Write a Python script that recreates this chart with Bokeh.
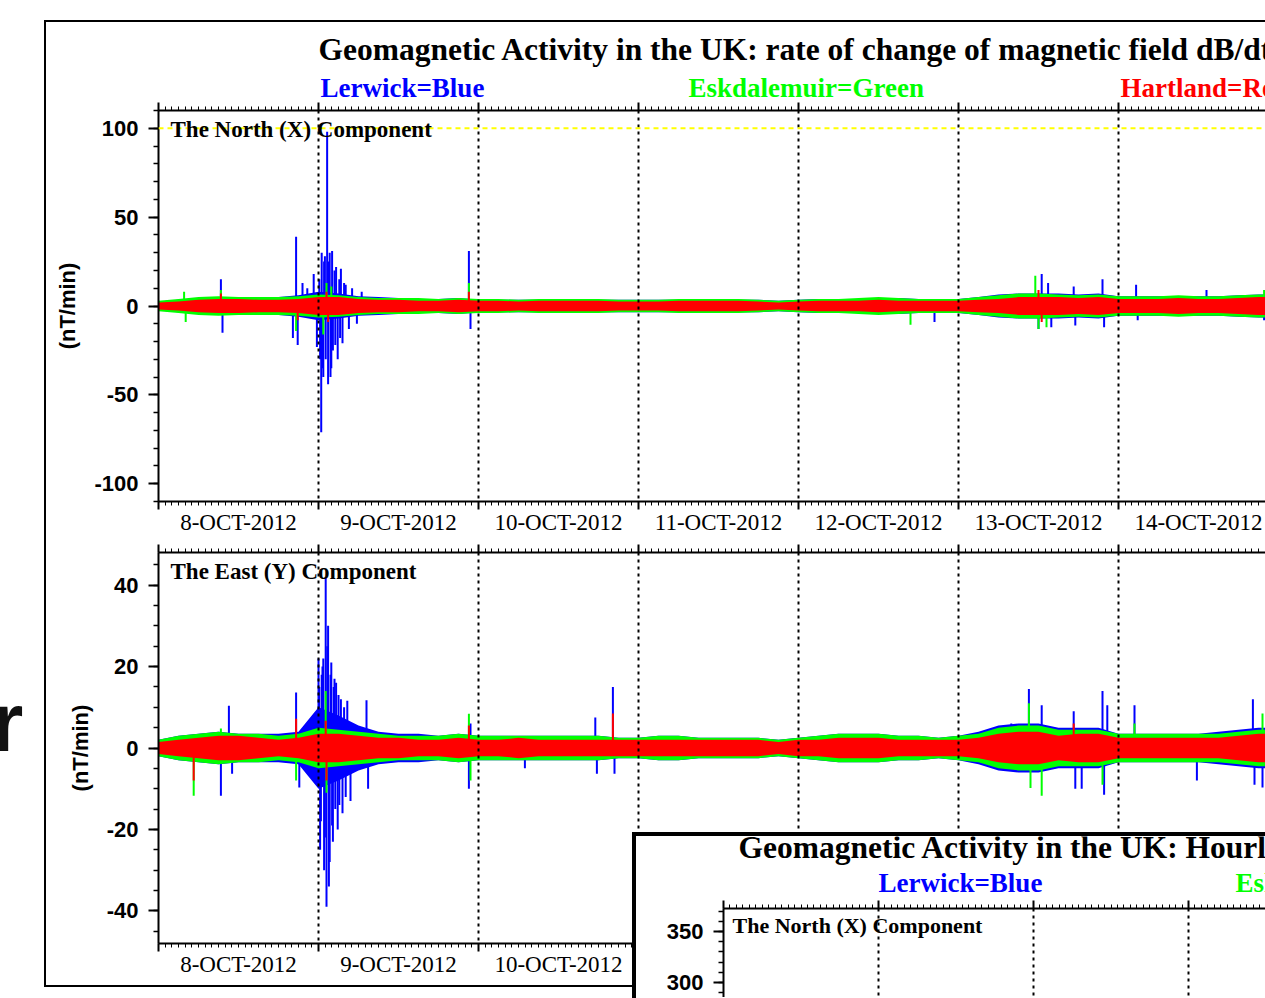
from bokeh.plotting import figure
from bokeh.models import Range1d, FixedTicker, LinearAxis, Span, Div, CustomJSTickFormatter
from bokeh.embed import file_html
from bokeh.resources import INLINE
from bokeh.core.properties import value

SERIF = "Liberation Serif"
SANS = "Liberation Sans"

# ---------------------------------------------------------------- data
DAY_LABELS = ["8-OCT-2012", "9-OCT-2012", "10-OCT-2012", "11-OCT-2012",
              "12-OCT-2012", "13-OCT-2012", "14-OCT-2012"]
INSET_DAYS = 4

# 3-hourly sample times (days after 8-OCT-2012 00:00)
T3 = [i / 8 for i in range(57)]

# half-width of the dense 1-min noise band (nT/min), North (X) component
X_RED = [2, 2.5, 3.5, 4, 4, 3.5, 3.5, 4,
         5, 5, 4, 3.5, 3.5, 3, 3, 3.5,
         3, 3, 2.5, 3, 3, 3, 3, 2.5,
         2.5, 2.5, 3, 3, 3, 3, 2.5, 2,
         2.5, 3, 3, 3, 3.5, 3, 3, 3,
         3, 3.5, 4, 5, 5, 5, 4.5, 5,
         4, 4, 4, 4.5, 4, 4, 4.5, 5, 5]
X_GREEN = [3, 4, 5, 5.5, 5, 5, 5, 5.5,
           6.5, 6, 5, 4.5, 4.5, 4.5, 4, 4.5,
           4, 4, 3.5, 4, 4, 4, 4, 3.5,
           3.5, 3.5, 4, 4, 4, 4, 3.5, 3,
           3.5, 4, 4, 4.5, 5, 4.5, 4, 4,
           4, 5, 6, 7, 7, 6.5, 6, 6.5,
           5.5, 5.5, 5.5, 6, 5.5, 5.5, 6, 6.5, 6.5]
X_BLUE = [2.5, 3.5, 4.5, 5, 4.5, 4.5, 5, 6,
          8, 7, 5.5, 5, 4.5, 4, 4, 4.5,
          3.5, 3.5, 3.5, 3.5, 4, 4, 3.5, 3.5,
          3.5, 3.5, 3.5, 3.5, 4, 3.5, 3.5, 3,
          3.5, 4, 4, 4, 4.5, 4.5, 4, 4,
          4, 5, 6.5, 7, 7, 7, 6.5, 7,
          5.5, 5.5, 5.5, 5.5, 5.5, 5.5, 6, 6.5, 6.5]

# half-width of the dense noise band, East (Y) component
Y_RED = [1.5, 2, 2.5, 3, 3, 2.5, 2, 2.5,
         3.5, 3.5, 3, 2.5, 2.5, 2, 2, 2.5,
         2, 2, 2.5, 2, 2, 2, 2, 2,
         2, 2, 2, 2, 2, 2, 2, 1.5,
         2, 2, 2.5, 2.5, 2.5, 2, 2, 2,
         2, 2.5, 3.5, 4, 4, 3, 3.5, 3.5,
         2.5, 2.5, 2.5, 2.5, 2.5, 2.5, 3, 3.5, 3.5]
Y_GREEN = [2, 3, 3.5, 4, 3.5, 3.5, 3, 3.5,
           5, 4.5, 4, 3.5, 3, 3, 3, 3.5,
           3, 3, 3, 3, 3, 3, 3, 2.5,
           2.5, 3, 3, 2.5, 2.5, 2.5, 2.5, 2,
           2.5, 3, 3.5, 3.5, 3.5, 3, 3, 2.5,
           3, 3.5, 5, 5.5, 5.5, 4.5, 4.5, 4.5,
           3.5, 3.5, 3.5, 3.5, 3.5, 3.5, 4, 4.5, 4.5]
Y_BLUE = [2, 3, 3.5, 4, 3.5, 3.5, 3.5, 4,
          10, 8, 5.5, 4, 3.5, 3.5, 3, 3.5,
          3, 3, 3, 3, 3, 3, 3, 2.5,
          2.5, 3, 3, 2.5, 2.5, 2.5, 2.5, 2,
          2.5, 3, 3.5, 3.5, 3.5, 3, 3, 2.5,
          3, 4, 5.5, 6, 6, 5, 5, 5,
          3.5, 3.5, 3.5, 3.5, 3.5, 4, 4.5, 5, 5]

# individual excursions (time in days, value in nT/min)
X_BLUE_SPIKE_T = [0.39, 0.40, 0.84, 0.86, 0.87, 0.90, 0.93, 0.97, 0.99, 1.005, 1.01, 1.017,
                  1.02, 1.025, 1.03, 1.035, 1.04, 1.045, 1.054, 1.06, 1.065, 1.07, 1.075, 1.08,
                  1.085, 1.09, 1.10, 1.105, 1.11, 1.12, 1.13, 1.135, 1.14, 1.15, 1.16, 1.17,
                  1.19, 1.21, 1.24, 1.27, 1.94, 1.95, 4.85, 5.50, 5.52, 5.56, 5.58, 5.72,
                  5.73, 5.90, 5.91, 6.11, 6.12, 6.55, 6.91]
X_BLUE_SPIKE_V = [15, -15, -18, 39, -22, 13, 10, 18, -23, 15, -30, -71,
                  30, -35, -40, 25, 28, -30, 98, -44, 25, 30, -40, -35,
                  31, -25, 20, -22, 22, -30, 15, -18, 21, -21, 13, 12,
                  -13, 10, -10, 8, 31, -13, -9, -13, 18, 13, -12, 11,
                  -11, 15, -12, 12, -8, 9, -8]
X_GREEN_SPIKE_T = [0.16, 0.17, 0.39, 0.86, 1.03, 1.05, 1.08, 1.94, 4.70, 5.48, 5.50, 5.55, 6.91]
X_GREEN_SPIKE_V = [8, -9, 9, -14, -16, 13, 11, 13, -10.5, 17, -13, -12, 9]
X_RED_SPIKE_T = [0.39, 0.87, 1.05, 1.06, 1.94, 5.50, 5.52]
X_RED_SPIKE_V = [7, -8, 8, -9, 8, 9, -9]

Y_BLUE_SPIKE_T = [0.39, 0.44, 0.46, 0.86, 0.88, 1.00, 1.005, 1.01, 1.015, 1.02, 1.025, 1.03,
                  1.035, 1.04, 1.045, 1.05, 1.055, 1.06, 1.065, 1.07, 1.075, 1.08, 1.085, 1.09,
                  1.095, 1.10, 1.105, 1.11, 1.12, 1.125, 1.13, 1.14, 1.15, 1.16, 1.17, 1.18,
                  1.20, 1.30, 1.31, 1.94, 1.95, 2.29, 2.73, 2.74, 2.84, 2.85, 5.33, 5.34,
                  5.44, 5.52, 5.72, 5.73, 5.77, 5.90, 5.91, 5.93, 6.10, 6.49, 6.84, 6.85, 6.90]
Y_BLUE_SPIKE_V = [-11.7, 10.4, -6.3, 13.6, -9.7, 22, 15, -25, -18, 18, 20, 22,
                  -30, -22, 42, -39, 25, 30, -34, -28, 18, 21, -19, -23,
                  15, 17, -15, 16, -20, 13, -14, 12, -16, 10, -12, 11.6,
                  -13, 11.7, -10, -10, 6, -5, 7.5, -6.3, 15, -6.3, 6, -5.6,
                  14.5, 10.5, 9, -10, -10, 14, -11.5, 10.5, 10.5, -8, 12, -9, -9.7]
Y_GREEN_SPIKE_T = [0.22, 0.39, 0.86, 1.045, 1.05, 1.94, 1.95, 5.44, 5.45, 5.52, 5.90, 6.10, 6.90]
Y_GREEN_SPIKE_V = [-11.7, 4.8, -8, 14, -11, 8.4, -8, 11, -9.8, -11.7, -9, 6, 8.5]
Y_RED_SPIKE_T = [0.22, 0.86, 1.045, 1.05, 1.94, 2.84, 5.72]
Y_RED_SPIKE_V = [-8, 7.2, 6.7, -8, 5.5, 8.5, 6]

X_TICKS = [-100, -50, 0, 50, 100]
X_MINOR = list(range(-110, 111, 10))
Y_TICKS = [-40, -20, 0, 20, 40]
Y_MINOR = list(range(-45, 46, 5))
INSET_TICKS = [300, 350]
INSET_MINOR = list(range(290, 371, 10))

BLUE, GREEN, RED = "#0000ff", "#00ff00", "#ff0000"


# ---------------------------------------------------------------- helpers
def place(obj, X, Y, z=1, extra=None):
    st = {"position": "absolute", "left": f"{X}px", "top": f"{Y}px", "z-index": str(z)}
    if extra:
        st.update(extra)
    obj.styles = st
    return obj


def base_fig(w, h, xr, yr, ml=0, mt=0, mr=0, mb=0):
    p = figure(width=w, height=h, x_range=xr, y_range=yr, x_axis_type=None, y_axis_type=None,
               output_backend="svg", toolbar_location=None, title=None,
               min_border_left=ml, min_border_top=mt, min_border_right=mr, min_border_bottom=mb)
    p.outline_line_color = None
    p.background_fill_color = "white"
    p.border_fill_color = "white"
    return p


def header(w, h, items):
    p = base_fig(w, h, Range1d(0, w), Range1d(h, 0))
    for (x, y, txt, col, size) in items:
        p.text(x=[x], y=[y], text=[txt], text_color=col, text_font=value(SERIF),
               text_font_size=value(size), text_font_style="bold",
               text_align="left", text_baseline="middle")
    return p


def day_tick_axis(ndays):
    ax = LinearAxis(ticker=FixedTicker(ticks=list(range(ndays + 1)),
                                       minor_ticks=[h / 24 for h in range(24 * ndays + 1)]),
                    formatter=CustomJSTickFormatter(code="return ''"))
    ax.axis_line_width = 2
    ax.axis_line_color = "black"
    ax.major_tick_in = 0
    ax.major_tick_out = 8
    ax.major_tick_line_width = 2
    ax.minor_tick_in = 0
    ax.minor_tick_out = 4
    ax.minor_tick_line_width = 1
    ax.major_label_standoff = 0
    ax.major_label_text_font_size = "1px"
    return ax


def day_label_axis(labels):
    mids = [i + 0.5 for i in range(len(labels))]
    ax = LinearAxis(ticker=FixedTicker(ticks=mids, minor_ticks=[]),
                    major_label_overrides={m: lab for m, lab in zip(mids, labels)})
    ax.axis_line_color = None
    ax.major_tick_line_color = None
    ax.minor_tick_line_color = None
    ax.major_tick_in = 0
    ax.major_tick_out = 0
    ax.minor_tick_in = 0
    ax.minor_tick_out = 0
    ax.major_label_standoff = 0
    ax.major_label_text_font = SERIF
    ax.major_label_text_font_size = "23px"
    ax.major_label_text_color = "black"
    return ax


def value_axis(major, minor, label=None):
    ax = LinearAxis(ticker=FixedTicker(ticks=major, minor_ticks=minor),
                    major_label_overrides={v: str(v) for v in major})
    ax.axis_line_width = 2
    ax.major_tick_in = 0
    ax.major_tick_out = 10
    ax.major_tick_line_width = 2
    ax.minor_tick_in = 0
    ax.minor_tick_out = 5
    ax.minor_tick_line_width = 1.5
    ax.major_label_standoff = 10
    ax.major_label_text_font = SANS
    ax.major_label_text_font_style = "bold"
    ax.major_label_text_font_size = "22px"
    ax.major_label_text_color = "black"
    if label:
        ax.axis_label = label
        ax.axis_label_text_font = SANS
        ax.axis_label_text_font_style = "bold"
        ax.axis_label_text_font_size = "22px"
        ax.axis_label_text_color = "black"
        ax.axis_label_standoff = 11
    return ax


def draw_station(p, hw, sp_t, sp_v, color):
    p.varea(x=T3, y1=[-v for v in hw], y2=hw, fill_color=color)
    p.segment(x0=sp_t, y0=[0] * len(sp_t), x1=sp_t, y1=sp_v, line_color=color, line_width=2)


def day_lines(p, ndays):
    for d in range(1, ndays + 1):
        p.add_layout(Span(location=d, dimension="height", line_color="black",
                          line_width=2, line_dash="3 4"))


def main_panel(y0, y1, major, minor, series, comp_text, comp_y, yellow=None):
    px_per_day = 160
    p = base_fig(1219, 442, Range1d(0, (1219 - 112) / px_per_day), Range1d(y0, y1),
                 ml=112, mt=10, mr=0, mb=41)
    p.add_layout(value_axis(major, minor, "(nT/min)"), "left")
    p.add_layout(day_tick_axis(7), "above")
    p.add_layout(day_tick_axis(7), "below")
    p.add_layout(day_label_axis(DAY_LABELS), "below")
    for hw, st, sv, col in series:
        draw_station(p, hw, st, sv, col)
    day_lines(p, 6)
    if yellow is not None:
        p.add_layout(Span(location=yellow, dimension="width", line_color="#ffff00",
                          line_width=2, line_dash="5 4"))
    p.text(x=[12 / px_per_day], y=[comp_y], text=[comp_text], text_font=value(SERIF),
           text_font_size=value("23px"), text_font_style="bold", text_color="black",
           text_baseline="middle", text_align="left", level="overlay")
    return p


# ---------------------------------------------------------------- main chart
frame_div = place(Div(text="", width=1221, height=967, margin=0), 44, 20, z=0,
                  extra={"border-top": "2px solid black", "border-left": "2px solid black",
                         "border-bottom": "2px solid black", "box-sizing": "border-box",
                         "width": "1221px", "height": "967px", "margin": "0px"})

head = place(header(1219, 78, [
    (272, 27, "Geomagnetic Activity in the UK: rate of change of magnetic field dB/dt", "black", "31.5px"),
    (274, 65, "Lerwick=Blue", BLUE, "27px"),
    (642, 65, "Eskdalemuir=Green", GREEN, "27px"),
    (1074, 65, "Hartland=Red", RED, "27px"),
]), 46, 22)

p1 = place(main_panel(-110, 110, X_TICKS, X_MINOR,
                      [(X_BLUE, X_BLUE_SPIKE_T, X_BLUE_SPIKE_V, BLUE),
                       (X_GREEN, X_GREEN_SPIKE_T, X_GREEN_SPIKE_V, GREEN),
                       (X_RED, X_RED_SPIKE_T, X_RED_SPIKE_V, RED)],
                      "The North (X) Component", 99.3, yellow=100), 46, 100)

p2 = place(main_panel(-48, 48, Y_TICKS, Y_MINOR,
                      [(Y_BLUE, Y_BLUE_SPIKE_T, Y_BLUE_SPIKE_V, BLUE),
                       (Y_GREEN, Y_GREEN_SPIKE_T, Y_GREEN_SPIKE_V, GREEN),
                       (Y_RED, Y_RED_SPIKE_T, Y_RED_SPIKE_V, RED)],
                      "The East (Y) Component", 43.3), 46, 542)

r_div = place(Div(text="r", margin=0), -9, 681, z=1,
              extra={"font-family": SANS, "font-weight": "bold", "font-size": "83px",
                     "line-height": "1", "color": "#111111", "margin": "0px"})

# ---------------------------------------------------------------- inset (hourly chart)
inset_div = place(Div(text="", width=633, height=166, margin=0), 632, 832, z=5,
                  extra={"border-top": "4px solid black", "border-left": "4px solid black",
                         "box-sizing": "border-box", "background": "white",
                         "width": "633px", "height": "166px", "margin": "0px"})

inset_head = place(header(629, 64, [
    (102, 11, "Geomagnetic Activity in the UK: Hourly", "black", "31.5px"),
    (242, 46, "Lerwick=Blue", BLUE, "27px"),
    (599, 46, "Eskdalemuir=Green", GREEN, "27px"),
]), 636, 836, z=6)

ip = base_fig(629, 97, Range1d(0, (629 - 87) / 155), Range1d(285.2, 372.5), ml=87, mt=8, mr=0, mb=0)
ip.add_layout(value_axis(INSET_TICKS, INSET_MINOR), "left")
ip.add_layout(day_tick_axis(INSET_DAYS), "above")
day_lines(ip, 3)
ip.text(x=[9 / 155], y=[355.9], text=["The North (X) Component"], text_font=value(SERIF),
        text_font_size=value("22px"), text_font_style="bold", text_color="black",
        text_baseline="middle", text_align="left", level="overlay")
place(ip, 636, 900, z=6)

roots = [frame_div, head, p1, p2, r_div, inset_div, inset_head, ip]

with open("out.html", "w") as f:
    f.write(file_html(roots, INLINE))
